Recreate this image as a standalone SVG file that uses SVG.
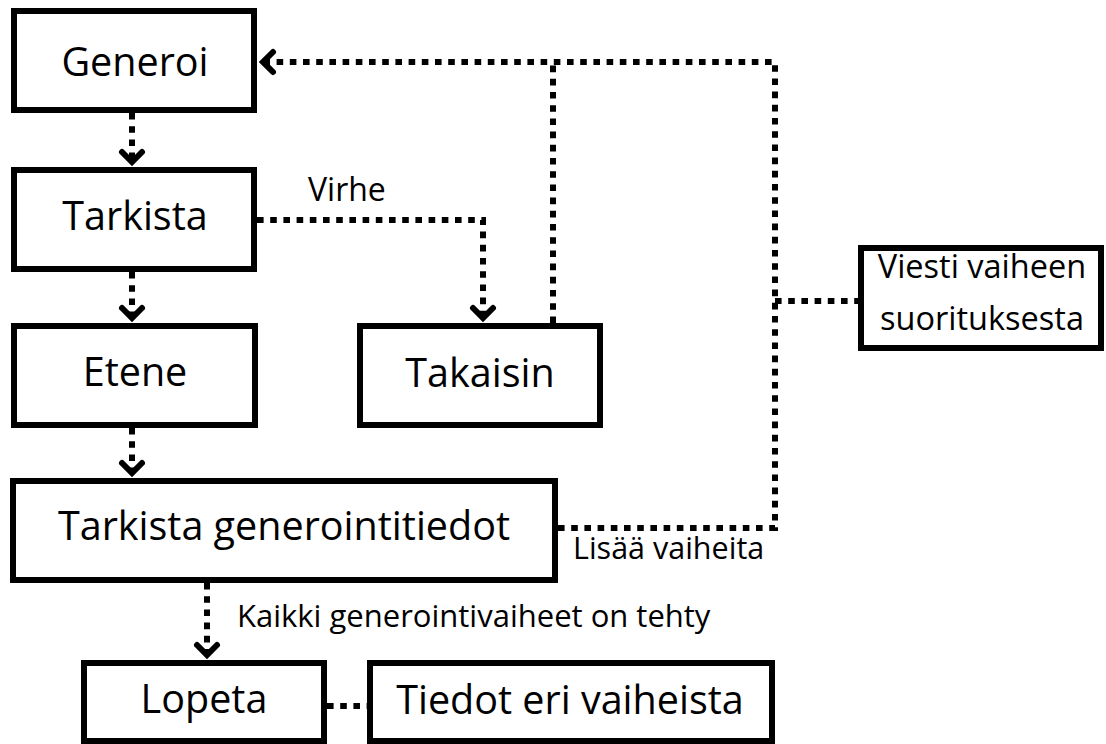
<svg xmlns="http://www.w3.org/2000/svg" width="1106" height="744" viewBox="0 0 1106 744">
<style>
.box{fill:#fff;stroke:#000;stroke-width:6}
.t{font-family:"Open Sans","Noto Sans",sans-serif;font-size:39.5px;fill:#000;text-anchor:middle}
.s{font-size:32.5px}
.lbl{font-family:"Open Sans","Noto Sans",sans-serif;fill:#000}
.c{fill:none;stroke:#000;stroke-width:6;stroke-dasharray:6.6 6.6}
</style>
<defs>
<marker id="arr" markerUnits="userSpaceOnUse" markerWidth="40" markerHeight="40" refX="0" refY="0" orient="auto" overflow="visible">
<path d="M-10,-10 L0,0 L-10,10" fill="none" stroke="#000" stroke-width="6" stroke-linecap="round" stroke-dasharray="none"/>
</marker>
</defs>
<rect width="1106" height="744" fill="#fff"/>
<g id="connectors">
<path class="c" d="M132,113 V162" marker-end="url(#arr)"/>
<path class="c" d="M132,272 V318" marker-end="url(#arr)"/>
<path class="c" d="M132,428 V473" marker-end="url(#arr)"/>
<path class="c" d="M257,220 H483 V318" marker-end="url(#arr)"/>
<path class="c" d="M553,323 V62"/>
<path class="c" d="M558,528 H775 V62 H263" marker-end="url(#arr)"/>
<path class="c" d="M775,301 H858"/>
<path class="c" d="M207,583 V655" marker-end="url(#arr)"/>
<path class="c" d="M327,706 H367"/>
<text class="lbl" x="308" y="201" style="font-size:32px">Virhe</text>
<text class="lbl" x="573" y="559" style="font-size:30.5px">Lisää vaiheita</text>
<text class="lbl" x="237" y="627" style="font-size:31px">Kaikki generointivaiheet on tehty</text>
</g>
<g id="generoi"><rect class="box" x="14" y="11" width="240" height="99"/><text class="t" x="135" y="76">Generoi</text></g>
<g id="tarkista"><rect class="box" x="14" y="170" width="240" height="99"/><text class="t" x="135" y="230">Tarkista</text></g>
<g id="etene"><rect class="box" x="14" y="326" width="241" height="99"/><text class="t" x="135" y="386">Etene</text></g>
<g id="takaisin"><rect class="box" x="360" y="326" width="240" height="99"/><text class="t" x="480" y="387">Takaisin</text></g>
<g id="tarkista-generointitiedot"><rect class="box" x="13" y="481" width="542" height="99"/><text class="t" x="284" y="540">Tarkista generointitiedot</text></g>
<g id="viesti"><rect class="box" x="861" y="248" width="240" height="100"/><text class="t s" x="982" y="278">Viesti vaiheen</text><text class="t s" x="982" y="330">suorituksesta</text></g>
<g id="lopeta"><rect class="box" x="84" y="663" width="240" height="78"/><text class="t" x="204" y="713">Lopeta</text></g>
<g id="tiedot"><rect class="box" x="370" y="663" width="402" height="78"/><text class="t" x="570" y="714">Tiedot eri vaiheista</text></g>
</svg>
